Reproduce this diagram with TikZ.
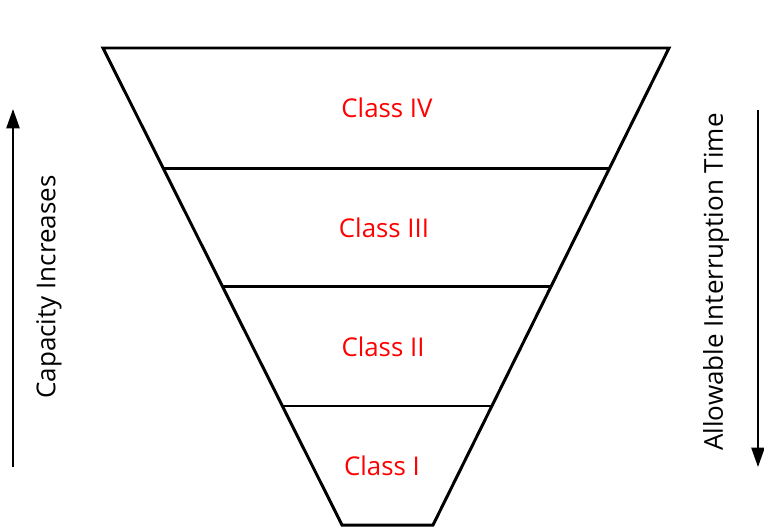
\documentclass[tikz,border=0pt]{standalone}
\usepackage{fontspec}
\setmainfont{Open Sans}
\usetikzlibrary{arrows.meta,calc,positioning}

\tikzset{
  funnel/.style={line width=1.7pt,line join=miter},
  classlabel/.style={text=red,font=\fontsize{14.7}{17}\selectfont},
  sidelabel/.style={font=\fontsize{14.8}{17}\selectfont,rotate=90},
  sidearrow/.style={line width=1.1pt,-{Triangle[length=11pt,width=7.5pt]}}
}

\begin{document}
\begin{tikzpicture}[x=0.02cm,y=-0.02cm,>=Latex]
  \useasboundingbox (0,0) rectangle (764,528);
  % funnel outline
  \coordinate (tl) at (103,48);
  \coordinate (tr) at (669,48);
  \coordinate (bl) at (342,525);
  \coordinate (br) at (433,525);
  \draw[funnel] (tl) -- (tr) -- (br) -- (bl) -- cycle;
  % dividers between the classes
  \foreach \t/\n in {0.2516/a,0.501/b,0.7505/c} {
    \coordinate (l\n) at ($(tl)!\t!(bl)$);
    \coordinate (r\n) at ($(tr)!\t!(br)$);
    \draw[funnel] (l\n) -- (r\n);
  }
  % class labels
  \node[classlabel] (c4) at (387,108) {Class IV};
  \node[classlabel] (c3) at (384,228) {Class III};
  \node[classlabel] (c2) at (383,347) {Class II};
  \node[classlabel] (c1) at (382,466) {Class I};
  % side arrows
  \coordinate (capbot) at (13,467);
  \coordinate (captop) at (13,109);
  \draw[sidearrow] (capbot) -- (captop);
  \node[sidelabel] (cap) at (49,287) {Capacity Increases};
  \coordinate (aittop) at (758,110);
  \coordinate (aitbot) at (758,467);
  \draw[sidearrow] (aittop) -- (aitbot);
  \node[sidelabel] (ait) at (716,282) {Allowable Interruption Time};
\end{tikzpicture}
\end{document}
